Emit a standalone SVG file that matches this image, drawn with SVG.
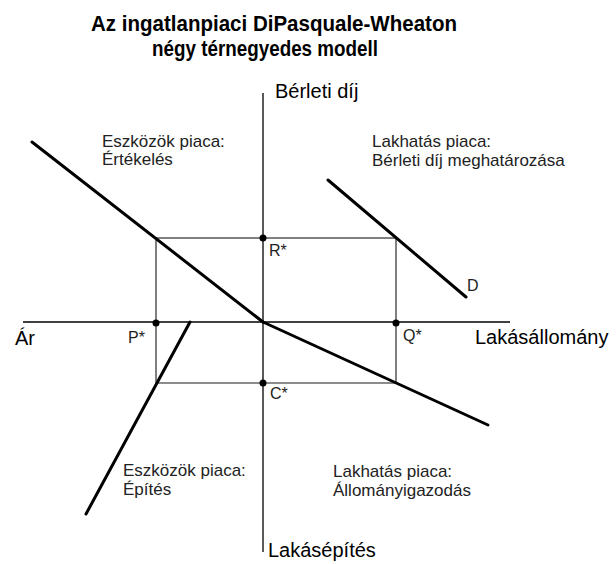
<svg xmlns="http://www.w3.org/2000/svg" width="616" height="564" viewBox="0 0 616 564">
<style>
text{font-family:"Liberation Sans",Arial,sans-serif;fill:#000}
.title{font-size:22px;font-weight:bold}
.axis{font-size:20px}
.quad{font-size:17px;fill:#222}
.pt{font-size:16px;fill:#222}
.ax{stroke:#000;stroke-width:1.3;fill:none}
.guide{stroke:#000;stroke-width:1;fill:none}
.curve{stroke:#000;stroke-width:3;fill:none;stroke-linecap:round}
.dot{fill:#000}
</style>
<rect width="616" height="564" fill="#fff"/>
<g id="title">
<text class="title" x="91" y="31" textLength="366" lengthAdjust="spacingAndGlyphs">Az ingatlanpiaci DiPasquale-Wheaton</text>
<text class="title" x="152" y="56" textLength="226" lengthAdjust="spacingAndGlyphs">négy térnegyedes modell</text>
</g>
<g id="connectors">
<line class="ax" x1="263" y1="93" x2="263" y2="552"/>
<line class="ax" x1="23" y1="322" x2="510" y2="322"/>
<line class="guide" x1="156" y1="238" x2="396" y2="238"/>
<line class="guide" x1="156" y1="238" x2="156" y2="383"/>
<line class="guide" x1="396" y1="238" x2="396" y2="383"/>
<line x1="156" y1="383" x2="396" y2="383" stroke="#666" stroke-width="1.5"/>
</g>
<g id="valuation">
<path class="curve" d="M32,142 L263,322"/>
</g>
<g id="stock-adjustment">
<path class="curve" d="M263,322 L488,425"/>
</g>
<g id="construction">
<path class="curve" d="M190,322 L86,514"/>
</g>
<g id="demand">
<path class="curve" d="M328,180 L466,297"/>
<text class="pt" x="467" y="291">D</text>
</g>
<g id="R-star"><circle class="dot" cx="263" cy="238" r="3.5"/><text class="pt" x="269" y="256">R*</text></g>
<g id="P-star"><circle class="dot" cx="156" cy="323" r="3.5"/><text class="pt" x="128" y="343">P*</text></g>
<g id="Q-star"><circle class="dot" cx="396" cy="323" r="3.5"/><text class="pt" x="403" y="341">Q*</text></g>
<g id="C-star"><circle class="dot" cx="263" cy="383" r="3.5"/><text class="pt" x="270" y="399">C*</text></g>
<g id="axis-labels">
<text class="axis" x="275" y="98">Bérleti díj</text>
<text class="axis" x="15" y="345">Ár</text>
<text class="axis" x="475" y="344">Lakásállomány</text>
<text class="axis" x="268" y="557">Lakásépítés</text>
</g>
<g id="q-valuation"><text class="quad" x="102" y="147">Eszközök piaca:</text><text class="quad" x="102" y="165">Értékelés</text></g>
<g id="q-rent"><text class="quad" x="372" y="147">Lakhatás piaca:</text><text class="quad" x="372" y="166">Bérleti díj meghatározása</text></g>
<g id="q-construction"><text class="quad" x="123" y="476">Eszközök piaca:</text><text class="quad" x="123" y="495">Építés</text></g>
<g id="q-stock"><text class="quad" x="333" y="477">Lakhatás piaca:</text><text class="quad" x="333" y="496">Állományigazodás</text></g>
</svg>
